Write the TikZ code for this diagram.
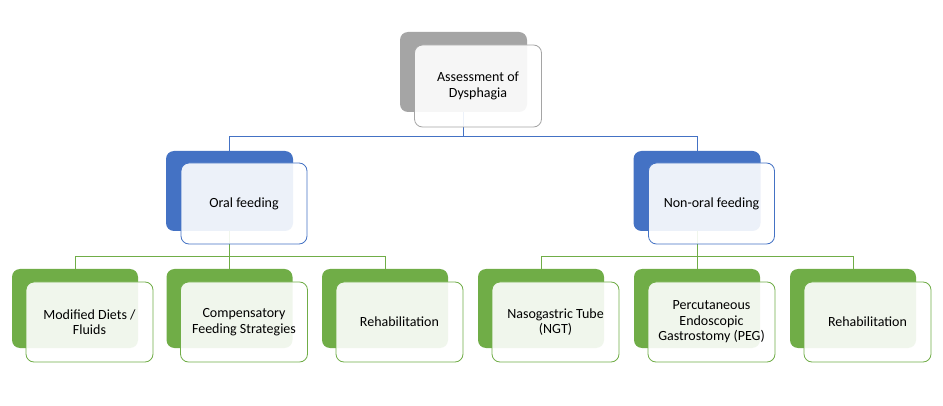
\documentclass[tikz,border=0pt]{standalone}
\usepackage{fontspec}
\setmainfont{Carlito}
\definecolor{cgray}{HTML}{A5A5A5}
\definecolor{cblue}{HTML}{4472C4}
\definecolor{cgreen}{HTML}{70AD47}
\begin{document}
\begin{tikzpicture}[x=1pt,y=-1pt,
  back/.style={rectangle,rounded corners=8pt,draw=none,fill=#1,inner sep=0pt},
  front/.style={rectangle,rounded corners=8pt,draw=#1,line width=0.8pt,fill=white,fill opacity=0.9,text opacity=1,inner sep=2pt,align=center,font=\fontsize{14}{15.5}\selectfont,text=black},
  conn/.style={draw=#1,line width=1pt},
  bw/.style={minimum width=127pt,minimum height=80pt}
]
\useasboundingbox (0,0) rectangle (943,406);
\fill[white] (0,0) rectangle (943,406);
% back boxes
\node[back=cgray,bw] (ab) at (463.5,72) {};
\node[back=cblue,bw] (ob) at (229.5,191) {};
\node[back=cblue,bw] (nb) at (697,191) {};
\foreach \n/\x in {m/75,c/229.5,r1/385,g/541,p/697,r2/853}{
  \node[back=cgreen,minimum width=126pt,minimum height=79pt] (\n b) at (\x,308.5) {};
}
% junction coordinates
\coordinate (j1) at (463.5,137);
\coordinate (j2) at (229.5,257);
\coordinate (j3) at (697,257);
% connectors
\draw[conn=cblue] (ab.south) -- (ab.south |- j1);
\draw[conn=cblue] (ob.north) -- (ob.north |- j1) -- (nb.north |- j1) -- (nb.north);
\draw[conn=cgreen] (ob.south) -- (ob.south |- j2);
\draw[conn=cgreen] (mb.north) -- (mb.north |- j2) -- (r1b.north |- j2) -- (r1b.north);
\draw[conn=cgreen] (cb.north) -- (cb.north |- j2);
\draw[conn=cgreen] (nb.south) -- (nb.south |- j3);
\draw[conn=cgreen] (gb.north) -- (gb.north |- j3) -- (r2b.north |- j3) -- (r2b.north);
\draw[conn=cgreen] (pb.north) -- (pb.north |- j3);
% front boxes
\node[front=cgray,minimum width=127pt,minimum height=82pt] (af) at (478,86) {Assessment of\\Dysphagia};
\node[front=cblue,minimum width=126pt,minimum height=81pt] (of) at (244,203.5) {Oral feeding};
\node[front=cblue,minimum width=126pt,minimum height=81pt] (nf) at (711.5,203.5) {Non-oral feeding};
\foreach \n/\x/\t in {m/75/{Modified Diets /\\Fluids},c/229.5/{Compensatory\\Feeding Strategies},r1/385/{Rehabilitation},g/541/{Nasogastric Tube\\(NGT)},p/697/{Percutaneous\\Endoscopic\\Gastrostomy (PEG)},r2/853/{Rehabilitation}}{
  \node[front=cgreen,minimum width=127pt,minimum height=80pt] (\n f) at (\x+14.5,322) {\t};
}
\end{tikzpicture}
\end{document}
